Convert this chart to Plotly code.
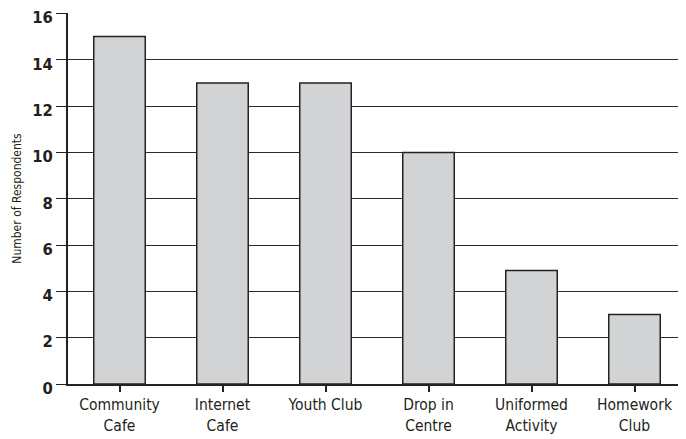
import plotly.graph_objects as go

categories = ["Community<br>Cafe", "Internet<br>Cafe", "Youth Club", "Drop in<br>Centre", "Uniformed<br>Activity", "Homework<br>Club"]
values = [15, 13, 13, 10, 4.9, 3]
y_ticks = [0, 2, 4, 6, 8, 10, 12, 14, 16]

FONT = "Liberation Sans Narrow, DejaVu Sans Condensed, Arial Narrow, sans-serif"

fig = go.Figure(go.Bar(
    x=list(range(len(categories))), y=values,
    marker=dict(color="#d1d3d4", line=dict(color="#222222", width=1.5)),
    width=0.5,
))

# page body has an 8px default margin, so the figure is 8px smaller than the window
fig.update_layout(
    width=678, height=431,
    margin=dict(l=60, r=0, t=5, b=55),
    plot_bgcolor="white", paper_bgcolor="white",
    showlegend=False,
    font=dict(family=FONT, color="#231f20"),
)
fig.update_xaxes(
    range=[-0.5, 5.5],
    tickmode="array", tickvals=list(range(len(categories))), ticktext=categories,
    tickson="boundaries", ticks="outside", ticklen=6, tickwidth=1.5, tickcolor="#222",
    showline=True, linecolor="#222", linewidth=1.5,
    showgrid=False, zeroline=False, automargin=False,
    tickfont=dict(family=FONT, size=15.5, color="#231f20"),
)
fig.update_yaxes(
    range=[0, 16.02],
    tickmode="array", tickvals=y_ticks, ticktext=[str(v) for v in y_ticks],
    ticks="outside", ticklen=10, tickwidth=1.2, tickcolor="#222",
    ticklabeloverflow="allow", automargin=False, ticklabelshift=4,
    showline=True, linecolor="#222", linewidth=1.5,
    showgrid=True, gridcolor="#2a2a2a", gridwidth=1.2,
    zeroline=False,
    tickfont=dict(family=FONT, size=16.5, color="#231f20", weight="bold"),
    title=dict(text="Number of Respondents", font=dict(family=FONT, size=12, color="#231f20"), standoff=8),
)

fig.write_html("out.html")
